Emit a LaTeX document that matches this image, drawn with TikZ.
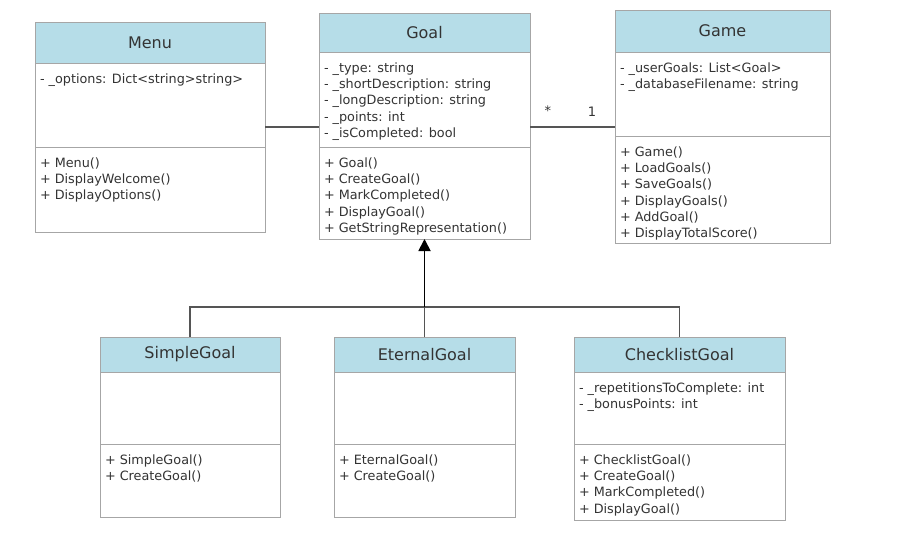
\documentclass[tikz,border=0pt]{standalone}
\usepackage{fontspec}
\setmainfont{DejaVu Sans}
\usetikzlibrary{arrows.meta}
\definecolor{headblue}{HTML}{B6DDE8}
\definecolor{boxgray}{HTML}{A6A6A6}
\definecolor{linegray}{HTML}{555555}
\definecolor{txtgray}{HTML}{333333}
\tikzset{head/.style={draw=boxgray, fill=headblue, text=txtgray, anchor=north west, inner sep=0pt, outer sep=0pt, font=\fontsize{16}{19}\selectfont},
%body parts of a class, text from the top left corner
part/.style={draw=boxgray, fill=white, text=txtgray, anchor=north west, inner xsep=5pt, inner ysep=0pt, outer sep=0pt, font=\fontsize{12.8}{16.3}\selectfont},
link/.style={draw=linegray, line width=1.5pt},
inherit/.style={draw=black, line width=1.8pt, -{Triangle[length=12pt,width=12pt]}}}
\newcommand{\members}[3]{\parbox[c][#2][t]{\dimexpr#1-10pt\relax}{\vspace*{10.5pt}#3}}

\begin{document}
\begin{tikzpicture}[x=1pt, y=-1pt]
\useasboundingbox (0,0) rectangle (922,552);

% Menu
\node[head, minimum width=230pt, minimum height=41pt] (menu) at (35,22) {Menu};
\node[part, minimum width=230pt] (menu-attr) at (menu.south west) {\members{230pt}{84pt}{- \_options: Dict<string>string>}};
\node[part, minimum width=230pt] (menu-ops) at (menu-attr.south west) {\members{230pt}{85pt}{+ Menu()\\+ DisplayWelcome()\\+ DisplayOptions()}};

% Goal
\node[head, minimum width=211pt, minimum height=39pt] (goal) at (319,13) {Goal};
\node[part, minimum width=211pt] (goal-attr) at (goal.south west) {\members{211pt}{95pt}{- \_type: string\\- \_shortDescription: string\\- \_longDescription: string\\- \_points: int\\- \_isCompleted: bool}};
\node[part, minimum width=211pt] (goal-ops) at (goal-attr.south west) {\members{211pt}{92pt}{+ Goal()\\+ CreateGoal()\\+ MarkCompleted()\\+ DisplayGoal()\\+ GetStringRepresentation()}};

% Game
\node[head, minimum width=215pt, minimum height=42pt] (game) at (615,10) {Game};
\node[part, minimum width=215pt] (game-attr) at (game.south west) {\members{215pt}{84pt}{- \_userGoals: List<Goal>\\- \_databaseFilename: string}};
\node[part, minimum width=215pt] (game-ops) at (game-attr.south west) {\members{215pt}{107pt}{+ Game()\\+ LoadGoals()\\+ SaveGoals()\\+ DisplayGoals()\\+ AddGoal()\\+ DisplayTotalScore()}};

% subclasses
\foreach \n/\x/\w/\h/\title/\attrs/\ops in {
  simple/100/180/73/SimpleGoal/{\relax}/{+ SimpleGoal()\\+ CreateGoal()},
  eternal/334/181/73/EternalGoal/{\relax}/{+ EternalGoal()\\+ CreateGoal()},
  checklist/574/211/76/ChecklistGoal/{- \_repetitionsToComplete: int\\- \_bonusPoints: int}/{+ ChecklistGoal()\\+ CreateGoal()\\+ MarkCompleted()\\+ DisplayGoal()}}
{
  \node[head, minimum width=\w pt, minimum height=35pt] (\n) at (\x,337) {\title};
  \node[part, minimum width=\w pt] (\n-attr) at (\n.south west) {\members{\w pt}{72pt}{\attrs}};
  \node[part, minimum width=\w pt] (\n-ops) at (\n-attr.south west) {\members{\w pt}{\h pt}{\ops}};
}

% associations
\coordinate (assoc) at (0,127);
\draw[link] (menu-attr.east |- assoc) -- (goal-attr.west |- assoc);
\draw[link] (goal-attr.east |- assoc) -- node[pos=0.21, above=7pt, text=txtgray, font=\fontsize{13}{15}\selectfont]{*} node[pos=0.73, above=6pt, text=txtgray, font=\fontsize{13}{15}\selectfont]{1} (game-attr.west |- assoc);

% inheritance
\coordinate (bus) at (eternal.north |- 0,307);
\draw[link] (simple.north) |- (bus) -| (checklist.north);
\draw[link] (eternal.north) -- (bus);
\draw[inherit] (bus) -- (goal-ops.south);

\end{tikzpicture}
\end{document}
